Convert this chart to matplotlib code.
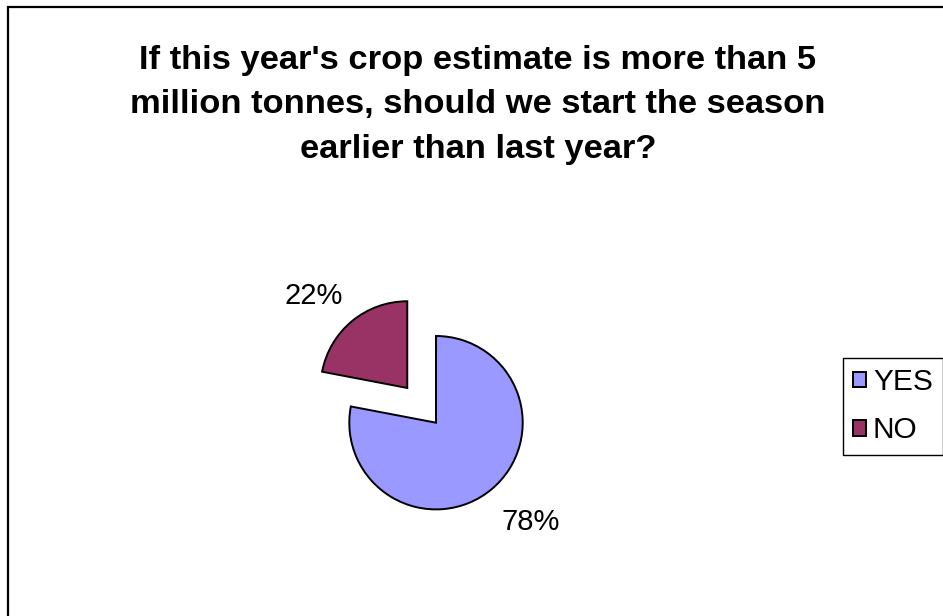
import numpy as np
import matplotlib
matplotlib.use("Agg")
import matplotlib.pyplot as plt
from matplotlib.patches import Rectangle

# Survey answers
categories = ["YES", "NO"]
shares = [78, 22]
colors = ["#9999FF", "#993366"]
title = ("If this year's crop estimate is more than 5\n"
         "million tonnes, should we start the season\n"
         "earlier than last year?")

W, H = 943, 616
fig = plt.figure(figsize=(W / 100, H / 100), dpi=100)
plt.rcParams["font.family"] = ["Liberation Sans", "DejaVu Sans"]
ax = fig.add_axes([0, 0, 1, 1])
ax.set_xlim(0, W)
ax.set_ylim(0, H)
ax.set_aspect("equal")
ax.axis("off")

radius = 86.7
center = (436, H - 422.7)
explode = [0, 0.52 * radius]

wedges, _ = ax.pie(shares, colors=colors, startangle=90, counterclock=False,
                   radius=radius, center=center, explode=explode,
                   wedgeprops=dict(edgecolor="black", linewidth=1.4))
ax.set_xlim(0, W)
ax.set_ylim(0, H)

# percentage labels placed outside each wedge
label_dist = [1.58, 1.51]
label_shift = [4.0, 5.9]   # degrees
for w, val, d, s in zip(wedges, shares, label_dist, label_shift):
    mid = np.deg2rad(0.5 * (w.theta1 + w.theta2) + s)
    cx, cy = w.center
    ax.text(cx + d * w.r * np.cos(mid), cy + d * w.r * np.sin(mid),
            f"{val}%", ha="center", va="center", fontsize=21, color="black")

fig.text(478 / W, 1 - 105 / H, title, ha="center", va="center",
         fontsize=24.8, fontweight="bold", linespacing=1.56)

leg = ax.legend(wedges, categories, loc="upper right",
                bbox_to_anchor=(943 / W, 1 - 358 / H), bbox_transform=fig.transFigure,
                frameon=True, fancybox=False, edgecolor="black", framealpha=1,
                fontsize=21.5, handlelength=0.44, handleheight=0.44,
                handletextpad=0.22, labelspacing=0.68, borderpad=0.34,
                borderaxespad=0)
leg.get_frame().set_linewidth(1.0)

# chart area border
ax.add_patch(Rectangle((8, -20), 1000, (H - 7) + 20, fill=False,
                       edgecolor="black", linewidth=1.6, clip_on=False))

fig.savefig("out.png", dpi=100)
